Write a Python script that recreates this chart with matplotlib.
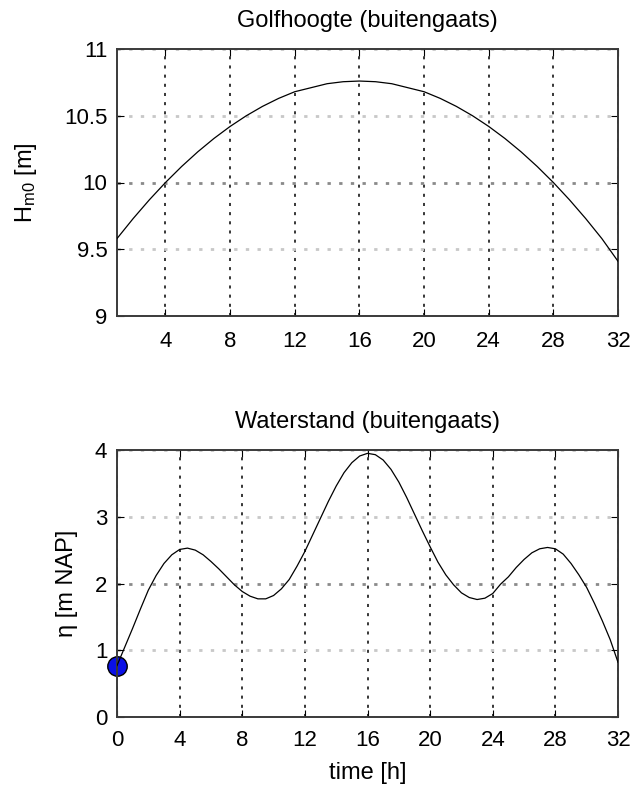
import matplotlib
matplotlib.use("Agg")
import matplotlib.pyplot as plt

plt.rcParams['font.family'] = ['Liberation Sans', 'DejaVu Sans']
plt.rcParams['mathtext.fontset'] = 'custom'
plt.rcParams['mathtext.rm'] = 'Liberation Sans'
plt.rcParams['mathtext.it'] = 'Liberation Sans'

# ---- data ----
t_hm0 = [1, 2, 3, 4, 5, 6, 7, 8, 9, 10, 11, 12, 13, 14, 15, 16,
         17, 18, 19, 20, 21, 22, 23, 24, 25, 26, 27, 28, 29, 30, 31, 32]
hm0 = [9.58, 9.73, 9.87, 10.00, 10.12, 10.23, 10.33, 10.42, 10.50, 10.57,
       10.63, 10.68, 10.71, 10.74, 10.755, 10.76,
       10.755, 10.74, 10.71, 10.68, 10.63, 10.57, 10.50, 10.42, 10.33,
       10.23, 10.12, 10.00, 9.87, 9.73, 9.58, 9.41]

t_eta = [0, 0.5, 1, 1.5, 2, 2.5, 3, 3.5, 4, 4.5, 5, 5.5, 6, 6.5, 7, 7.5,
         8, 8.5, 9, 9.5, 10, 10.5, 11, 11.5, 12, 12.5, 13, 13.5, 14, 14.5,
         15, 15.5, 16, 16.5, 17, 17.5, 18, 18.5, 19, 19.5, 20, 20.5, 21,
         21.5, 22, 22.5, 23, 23.5, 24, 24.5, 25, 25.5, 26, 26.5, 27, 27.5,
         28, 28.5, 29, 29.5, 30, 30.5, 31, 31.5, 32]
eta = [0.77, 1.05, 1.33, 1.62, 1.90, 2.12, 2.30, 2.43, 2.51, 2.53, 2.50,
       2.43, 2.33, 2.22, 2.10, 1.98, 1.88, 1.81, 1.77, 1.77, 1.82, 1.92,
       2.06, 2.26, 2.48, 2.73, 2.98, 3.23, 3.46, 3.66, 3.81, 3.91, 3.95,
       3.93, 3.85, 3.71, 3.52, 3.29, 3.04, 2.79, 2.55, 2.32, 2.13, 1.98,
       1.86, 1.79, 1.76, 1.78, 1.85, 1.99, 2.10, 2.24, 2.36, 2.46, 2.52,
       2.54, 2.52, 2.44, 2.30, 2.13, 1.94, 1.70, 1.44, 1.16, 0.82]

marker_t = [0]
marker_eta = [0.77]

top_xticks = [4, 8, 12, 16, 20, 24, 28, 32]
top_yticks = [9, 9.5, 10, 10.5, 11]
bot_xticks = [0, 4, 8, 12, 16, 20, 24, 28, 32]
bot_yticks = [0, 1, 2, 3, 4]

FS = 16
FT = 17

fig = plt.figure(figsize=(6.32, 7.89), dpi=100)
ax1 = fig.add_axes([117/632, 1-316/789, 501/632, 267/789])
ax2 = fig.add_axes([117/632, 1-717/789, 501/632, 267/789])


def style(ax, xticks, yticks, dark_y, xpad):
    ax.set_xticks(xticks)
    ax.set_yticks(yticks)
    ax.set_yticklabels([('%g' % v) for v in yticks])
    ax.tick_params(direction='in', length=5, width=0.8, top=True, right=True,
                   labelsize=FS, colors='black')
    ax.tick_params(axis='x', pad=xpad)
    ax.tick_params(axis='y', pad=7)
    for s in ax.spines.values():
        s.set_color('#3a3a3a')
        s.set_linewidth(1.4)
    for xv in xticks:
        ax.axvline(xv, color='black', lw=1.1, ls=(0, (2, 4)), zorder=1)
    for yv in yticks:
        if yv == dark_y:
            ax.axhline(yv, color='#8a8a8a', lw=2.0, ls=(0, (1.2, 3.0)), zorder=1)
        else:
            ax.axhline(yv, color='#c8c8c8', lw=2.0, ls=(0, (1.2, 3.0)), zorder=1)


ax1.plot(t_hm0, hm0, color='black', lw=0.9, zorder=3)
ax1.set_xlim(1, 32)
ax1.set_ylim(9, 11)
style(ax1, top_xticks, top_yticks, 10, 11)
ax1.set_title('Golfhoogte (buitengaats)', fontsize=FT, pad=16)
ax1.set_ylabel(r'H$_{\rm m0}$ [m]', fontsize=FT, labelpad=18)

ax2.plot(t_eta, eta, color='black', lw=0.9, zorder=3)
ax2.plot(marker_t, marker_eta, 'o', ms=14, mfc='#0a10e6', mec='black',
         mew=1.0, clip_on=False, zorder=2)
ax2.set_xlim(0, 32)
ax2.set_ylim(0, 4)
style(ax2, bot_xticks, bot_yticks, 2, 9)
ax2.set_title('Waterstand (buitengaats)', fontsize=FT, pad=16)
ax2.set_ylabel('η [m NAP]', fontsize=FT, labelpad=12)
ax2.set_xlabel('time [h]', fontsize=FT, labelpad=8)

fig.savefig('out.png', dpi=100)
